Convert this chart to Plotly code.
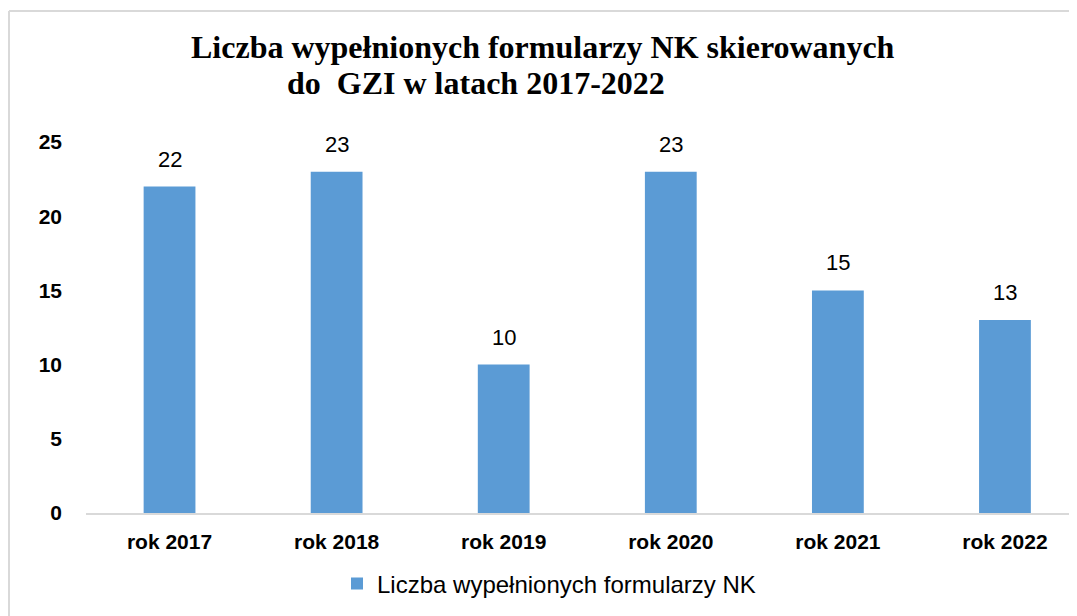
import plotly.graph_objects as go

categories = ["rok 2017", "rok 2018", "rok 2019", "rok 2020", "rok 2021", "rok 2022"]
values = [22, 23, 10, 23, 15, 13]
series_name = "Liczba wypełnionych formularzy NK"
title_line1 = "Liczba wypełnionych formularzy NK skierowanych"
title_line2 = "do  GZI w latach 2017-2022"
y_ticks = [0, 5, 10, 15, 20, 25]

BAR = "#5b9bd5"
W, H = 1077, 616
OFF = 8  # browser body margin
L, R, T, B = 86 - OFF, OFF, 142 - OFF, 616 - (513 - OFF)
pw, ph = W - L - R, H - T - B

def px_x(p):
    return (p - OFF - L) / pw

def px_y(p):
    return (H - B - (p - OFF)) / ph

fig = go.Figure()
fig.add_trace(go.Bar(
    x=categories, y=values, name=series_name,
    marker=dict(color=BAR, line=dict(width=0)),
    width=0.31, showlegend=True,
))

for c, v in zip(categories, values):
    fig.add_annotation(x=c, y=v, text=str(v), showarrow=False,
                       yanchor="bottom", yshift=13,
                       font=dict(family="Liberation Sans", size=22, color="#000"))

fig.add_annotation(xref="paper", yref="paper", x=px_x(543), y=px_y(47),
                   text="<b>" + title_line1 + "</b>", showarrow=False,
                   xanchor="center", yanchor="middle",
                   font=dict(family="Liberation Serif", size=32, color="#000"))
fig.add_annotation(xref="paper", yref="paper", x=px_x(285), y=px_y(83),
                   text="<b>" + title_line2.replace("  ", "&nbsp; ") + "</b>", showarrow=False,
                   xanchor="left", yanchor="middle",
                   font=dict(family="Liberation Serif", size=32, color="#000"))

# outer chart border (left and top visible)
fig.add_shape(type="line", xref="paper", yref="paper",
              x0=px_x(9), x1=px_x(1100), y0=px_y(11), y1=px_y(11),
              line=dict(color="#d9d9d9", width=2))
fig.add_shape(type="line", xref="paper", yref="paper",
              x0=px_x(9), x1=px_x(9), y0=px_y(11), y1=px_y(640),
              line=dict(color="#d9d9d9", width=2))

fig.update_layout(
    width=W, height=H,
    margin=dict(l=L, r=R, t=T, b=B, pad=0),
    paper_bgcolor="white", plot_bgcolor="white",
    bargap=0.69,
    showlegend=True,
    legend=dict(orientation="h", x=px_x(549), y=px_y(584), xanchor="center", yanchor="middle",
                font=dict(family="Liberation Sans", size=24, color="#000"),
                itemsizing="constant"),
    xaxis=dict(range=[-0.5, 5.5 - 11.5 / 167], showline=True, linecolor="#d9d9d9", linewidth=2,
               ticks="", showgrid=False, zeroline=False, fixedrange=True,
               tickfont=dict(family="Liberation Sans", size=21, color="#000", weight="bold"),
               ticklabelstandoff=9),
    yaxis=dict(range=[0, 25], tickvals=y_ticks, showgrid=False, zeroline=False, showline=False,
               ticks="", tickfont=dict(family="Liberation Sans", size=21, color="#000", weight="bold"),
               ticklabelstandoff=23),
)

fig.write_html("out.html")
